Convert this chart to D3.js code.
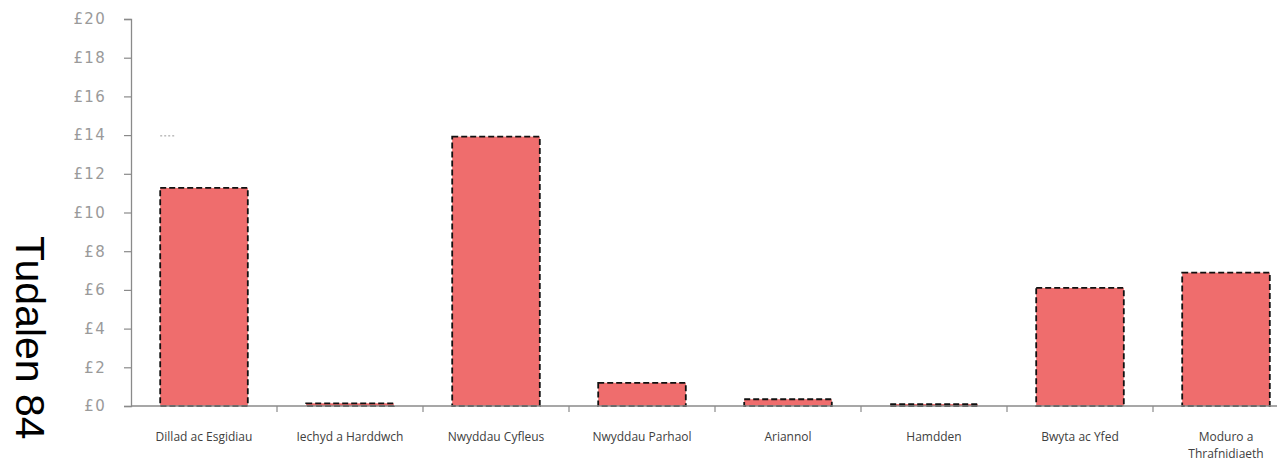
<!DOCTYPE html>
<html>
<head>
<meta charset="utf-8">
<script src="https://cdnjs.cloudflare.com/ajax/libs/d3/7.8.5/d3.min.js"></script>
<style>
  html, body { margin: 0; padding: 0; background: #fff; }
  svg { display: block; }
</style>
</head>
<body>
<svg id="chart" width="1277" height="461"></svg>
<script>
// Spend per category (£)
const categories = [
  "Dillad ac Esgidiau",
  "Iechyd a Harddwch",
  "Nwyddau Cyfleus",
  "Nwyddau Parhaol",
  "Ariannol",
  "Hamdden",
  "Bwyta ac Yfed",
  "Moduro a Thrafnidiaeth"
];
const categoryLines = [
  ["Dillad ac Esgidiau"],
  ["Iechyd a Harddwch"],
  ["Nwyddau Cyfleus"],
  ["Nwyddau Parhaol"],
  ["Ariannol"],
  ["Hamdden"],
  ["Bwyta ac Yfed"],
  ["Moduro a", "Thrafnidiaeth"]
];
const values = [11.27, 0.14, 13.92, 1.2, 0.35, 0.1, 6.1, 6.89];
const yTicks = [0, 2, 4, 6, 8, 10, 12, 14, 16, 18, 20];
const pageLabel = "Tudalen 84";

const svg = d3.select("#chart");

const plotLeft = 131, plotBottom = 406, plotTop = 19, plotRight = 1299;

const x = d3.scaleBand()
  .domain(categories)
  .range([plotLeft, plotRight])
  .paddingInner(0.4)
  .paddingOuter(0.2);

const y = d3.scaleLinear()
  .domain([0, 20])
  .range([plotBottom, plotTop]);

// Y axis
const yAxis = d3.axisLeft(y)
  .tickValues(yTicks)
  .tickSize(7)
  .tickPadding(18)
  .tickFormat(d => "£" + d);

const gy = svg.append("g")
  .attr("transform", `translate(${plotLeft},0)`)
  .call(yAxis);
gy.select(".domain").attr("stroke", "#8a8a8a").attr("stroke-width", 1.3);
gy.selectAll(".tick line").attr("stroke", "#8a8a8a").attr("stroke-width", 1.2);
gy.selectAll(".tick text")
  .attr("fill", "#9a9a9a")
  .style("font-family", "'DejaVu Sans', sans-serif")
  .style("font-size", "15px")
  .style("letter-spacing", "1.3px");

// Bars
svg.append("g")
  .selectAll("rect")
  .data(values)
  .join("rect")
  .attr("x", (d, i) => x(categories[i]))
  .attr("y", d => y(d))
  .attr("width", x.bandwidth())
  .attr("height", d => y(0) - y(d))
  .attr("fill", "#ef6d6d")
  .attr("stroke", "#111")
  .attr("stroke-width", 1.8)
  .attr("stroke-dasharray", "6,3");

// X axis line with ticks at category boundaries
const step = x.step();
const boundaries = categories.slice(1).map(c => x(c) - x.paddingInner() * step / 2);

const gx = svg.append("g");
gx.append("line")
  .attr("x1", plotLeft).attr("x2", plotRight)
  .attr("y1", plotBottom).attr("y2", plotBottom)
  .attr("stroke", "#8a8a8a").attr("stroke-width", 1.5);
gx.selectAll("line.tick")
  .data(boundaries)
  .join("line")
  .attr("class", "tick")
  .attr("x1", d => d).attr("x2", d => d)
  .attr("y1", plotBottom).attr("y2", plotBottom + 6)
  .attr("stroke", "#8a8a8a").attr("stroke-width", 1.2);

// Category labels
const labels = svg.append("g")
  .selectAll("text")
  .data(categoryLines)
  .join("text")
  .attr("x", (d, i) => x(categories[i]) + x.bandwidth() / 2)
  .attr("y", 441)
  .attr("text-anchor", "middle")
  .attr("fill", "#404040")
  .style("font-family", "'Open Sans', sans-serif")
  .style("font-size", "12px");
labels.selectAll("tspan")
  .data(d => d)
  .join("tspan")
  .attr("x", function () { return d3.select(this.parentNode).attr("x"); })
  .attr("dy", (d, i) => i === 0 ? 0 : 16.5)
  .text(d => d);

// Faint dotted stub near the first bar
svg.append("line")
  .attr("x1", x(categories[0])).attr("x2", x(categories[0]) + 16)
  .attr("y1", y(13.96)).attr("y2", y(13.96))
  .attr("stroke", "#9a9a9a")
  .attr("stroke-width", 1)
  .attr("stroke-dasharray", "2,2");

// Page number running down the left margin
svg.append("text")
  .attr("transform", "translate(16,236) rotate(90)")
  .attr("fill", "#000")
  .style("font-family", "'Liberation Sans', Arial, sans-serif")
  .style("font-size", "41px")
  .text(pageLabel);
</script>
</body>
</html>
